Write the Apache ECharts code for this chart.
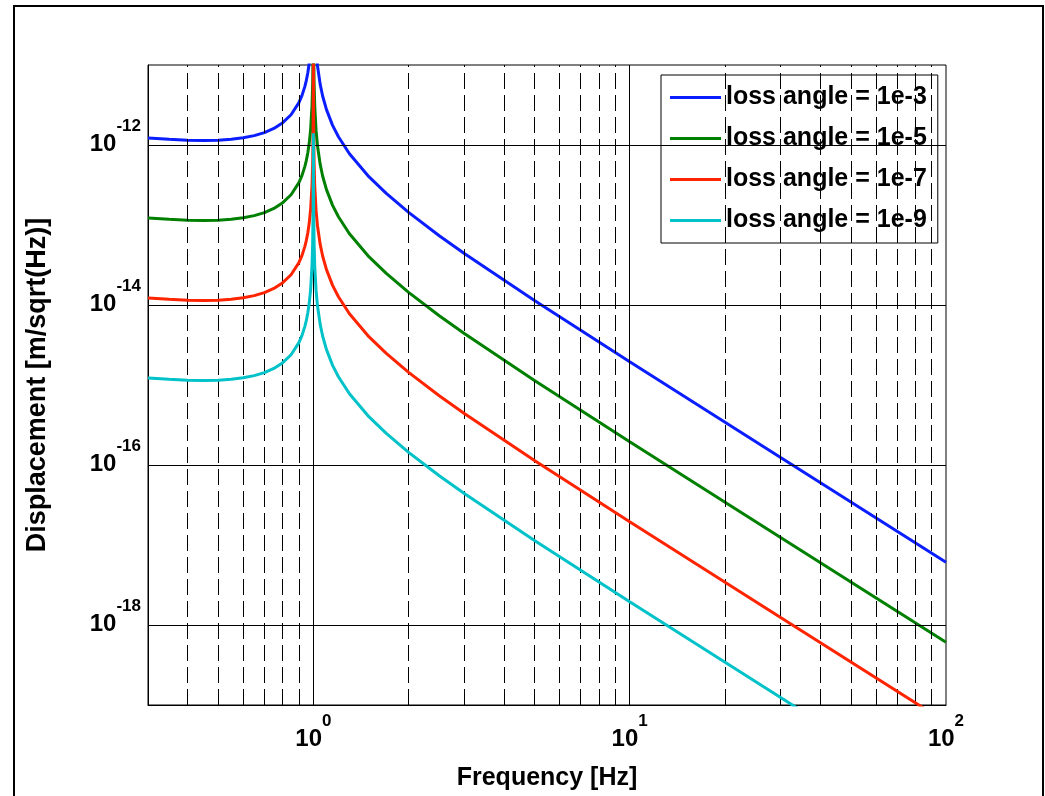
<!DOCTYPE html>
<html>
<head>
<meta charset="utf-8">
<script src="https://cdn.jsdelivr.net/npm/echarts@6/dist/echarts.min.js"></script>
<style>
  html, body { margin: 0; padding: 0; background: #fff; }
  #chart { width: 1045px; height: 796px; }
</style>
</head>
<body>
<div id="chart"></div>
<script>
// Frequencies [Hz]
const freq = [0.3,0.35,0.4,0.45,0.5,0.55,0.6,0.65,0.7,0.75,
  0.8,0.85,0.9,0.92,0.94,0.95,0.96,0.97,0.98,0.99,
  0.995,0.998,1,1.002,1.005,1.01,1.02,1.03,1.05,1.07,
  1.1,1.15,1.2,1.3,1.5,1.7,2,2.5,3,5,
  10,30,100];

// Displacement [m/sqrt(Hz)] per loss angle
const loss1e3 = [1.22e-12,1.18e-12,1.15e-12,1.14e-12,1.15e-12,1.18e-12,1.23e-12,1.31e-12,1.43e-12,1.61e-12,
  1.90e-12,2.39e-12,3.39e-12,4.14e-12,5.41e-12,6.42e-12,7.95e-12,1.05e-11,1.56e-11,3.08e-11,
  6.10e-11,1.48e-10,5.6e-10,1.48e-10,6.04e-11,3.02e-11,1.50e-11,9.88e-12,5.81e-12,4.07e-12,
  2.77e-12,1.76e-12,1.27e-12,7.76e-13,3.99e-13,2.48e-13,1.44e-13,7.35e-14,4.40e-14,1.14e-14,
  1.95e-15,1.24e-16,6.10e-18];
const loss1e5 = [1.22e-13,1.18e-13,1.15e-13,1.14e-13,1.15e-13,1.18e-13,1.23e-13,1.31e-13,1.43e-13,1.61e-13,
  1.90e-13,2.39e-13,3.39e-13,4.14e-13,5.41e-13,6.42e-13,7.95e-13,1.05e-12,1.56e-12,3.08e-12,
  6.13e-12,1.53e-11,1.4e-10,1.52e-11,6.07e-12,3.02e-12,1.50e-12,9.88e-13,5.81e-13,4.07e-13,
  2.77e-13,1.76e-13,1.27e-13,7.76e-14,3.99e-14,2.48e-14,1.44e-14,7.35e-15,4.40e-15,1.14e-15,
  1.95e-16,1.24e-17,6.10e-19];
const loss1e7 = [1.22e-14,1.18e-14,1.15e-14,1.14e-14,1.15e-14,1.18e-14,1.23e-14,1.31e-14,1.43e-14,1.61e-14,
  1.90e-14,2.39e-14,3.39e-14,4.14e-14,5.41e-14,6.42e-14,7.95e-14,1.05e-13,1.56e-13,3.08e-13,
  6.13e-13,1.53e-12,1.4e-11,1.52e-12,6.07e-13,3.02e-13,1.50e-13,9.88e-14,5.81e-14,4.07e-14,
  2.77e-14,1.76e-14,1.27e-14,7.76e-15,3.99e-15,2.48e-15,1.44e-15,7.35e-16,4.40e-16,1.14e-16,
  1.95e-17,1.24e-18,6.10e-20];
const loss1e9 = [1.22e-15,1.18e-15,1.15e-15,1.14e-15,1.15e-15,1.18e-15,1.23e-15,1.31e-15,1.43e-15,1.61e-15,
  1.90e-15,2.39e-15,3.39e-15,4.14e-15,5.41e-15,6.42e-15,7.95e-15,1.05e-14,1.56e-14,3.08e-14,
  6.13e-14,1.53e-13,1.4e-12,1.52e-13,6.07e-14,3.02e-14,1.50e-14,9.88e-15,5.81e-15,4.07e-15,
  2.77e-15,1.76e-15,1.27e-15,7.76e-16,3.99e-16,2.48e-16,1.44e-16,7.35e-17,4.40e-17,1.14e-17,
  1.95e-18,1.24e-19,6.10e-21];

const seriesNames = ['loss angle = 1e-3','loss angle = 1e-5','loss angle = 1e-7','loss angle = 1e-9'];
const seriesColors = ['#0a1eff','#008000','#ff2400','#00c2c8'];

// Grid lines
const minorGridFreqs = [0.4,0.5,0.6,0.7,0.8,0.9,2,3,4,5,6,7,8,9,20,30,40,50,60,70,80,90];
const majorGridFreqs = [1,10];
const majorGridValues = [1e-12,1e-14,1e-16,1e-18];

const FONT = "'Liberation Sans', Arial, Helvetica, sans-serif";

function pow10Label(showOdd) {
  return function (v) {
    const l = Math.log10(v);
    const e = Math.round(l);
    if (Math.abs(l - e) > 1e-6) return '';
    if (!showOdd && Math.abs(e) % 2 === 1) return '';
    return '{b|10}{s|' + e + '}';
  };
}
const richLabel = {
  b: { fontSize: 24, fontWeight: 'bold', fontFamily: FONT, color: '#000', lineHeight: 38, height: 24, verticalAlign: 'bottom' },
  s: { fontSize: 17, fontWeight: 'bold', fontFamily: FONT, color: '#000', lineHeight: 17, height: 17, verticalAlign: 'top' }
};

const datasets = [loss1e3, loss1e5, loss1e7, loss1e9];
const curveSeries = datasets.map((vals, i) => ({
  name: seriesNames[i],
  type: 'line',
  data: freq.map((f, j) => [f, vals[j]]),
  showSymbol: false,
  symbol: 'none',
  clip: true,
  lineStyle: { color: seriesColors[i], width: 3 },
  itemStyle: { color: seriesColors[i] },
  emphasis: { disabled: true },
  z: 3 + i
}));

const chart = echarts.init(document.getElementById('chart'), null, { renderer: 'canvas' });
chart.setOption({
  animation: false,
  backgroundColor: '#fff',
  graphic: [{
    type: 'rect',
    shape: { x: 14, y: 6, width: 1029, height: 900 },
    style: { fill: 'none', stroke: '#000', lineWidth: 2 },
    silent: true
  }],
  grid: { left: 148, top: 65, width: 798, height: 640, show: true, borderColor: '#000', borderWidth: 1, backgroundColor: '#fff' },
  legend: {
    data: seriesNames,
    orient: 'vertical',
    left: 661, top: 75,
    padding: [10, 11, 10, 9],
    itemGap: 16,
    itemWidth: 51, itemHeight: 3,
    itemTextGap: 6,
    icon: 'rect',
    backgroundColor: '#fff',
    borderColor: '#000', borderWidth: 1, borderRadius: 0,
    textStyle: { fontSize: 25, fontWeight: 'bold', fontFamily: FONT, color: '#000' },
    selectedMode: false
  },
  xAxis: {
    type: 'log', logBase: 10, min: 0.3, max: 100,
    axisLine: { show: true, lineStyle: { color: '#000', width: 1 } },
    axisTick: { show: false },
    splitLine: { show: false },
    minorTick: { show: false },
    axisLabel: { formatter: pow10Label(true), rich: richLabel, margin: 8, showMinLabel: true, showMaxLabel: true },
    name: 'Frequency [Hz]', nameLocation: 'middle', nameGap: 61,
    nameTextStyle: { fontSize: 25, fontWeight: 'bold', fontFamily: FONT, color: '#000' }
  },
  yAxis: {
    type: 'log', logBase: 10, min: 1e-19, max: 1e-11,
    axisLine: { show: true, lineStyle: { color: '#000', width: 1 } },
    axisTick: { show: false },
    splitLine: { show: false },
    axisLabel: { formatter: pow10Label(false), rich: richLabel, margin: 7, padding: [0, 0, 16, 0] },
    name: 'Displacement [m/sqrt(Hz)]', nameLocation: 'middle', nameGap: 97,
    nameTextStyle: { fontSize: 27, fontWeight: 'bold', fontFamily: FONT, color: '#000' }
  },
  series: [
    {
      name: 'minorGrid', type: 'line', data: [], silent: true, z: 1,
      markLine: {
        silent: true, animation: false, symbol: ['none', 'none'], label: { show: false },
        precision: 20,
        emphasis: { disabled: true },
        lineStyle: { color: '#000', width: 1, type: [16, 6] },
        data: minorGridFreqs.map(v => ({ xAxis: v }))
      }
    },
    {
      name: 'majorGrid', type: 'line', data: [], silent: true, z: 1,
      markLine: {
        silent: true, animation: false, symbol: ['none', 'none'], label: { show: false },
        precision: 20,
        emphasis: { disabled: true },
        lineStyle: { color: '#000', width: 1, type: 'solid' },
        data: majorGridFreqs.map(v => ({ xAxis: v })).concat(majorGridValues.map(v => ({ yAxis: v })))
      }
    }
  ].concat(curveSeries)
});
</script>
</body>
</html>
